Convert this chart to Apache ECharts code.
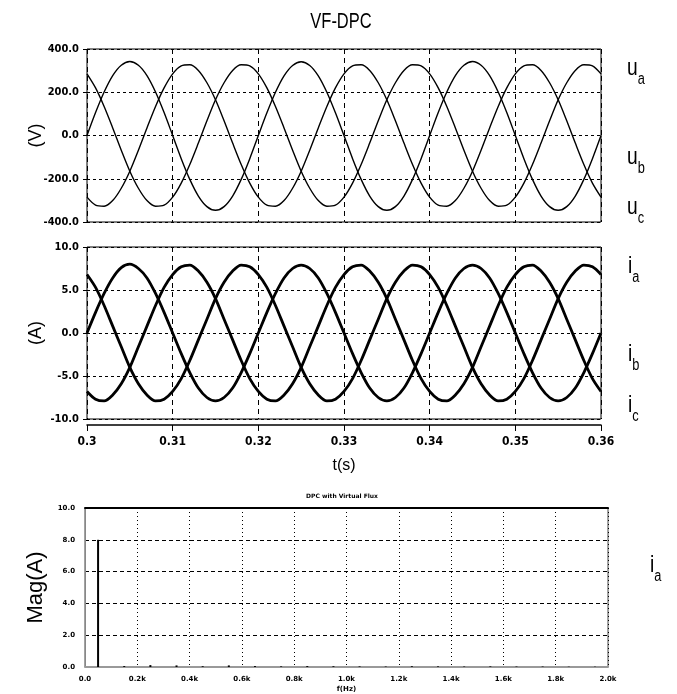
<!DOCTYPE html>
<html>
<head>
<meta charset="utf-8">
<script src="https://cdn.jsdelivr.net/npm/echarts@6/dist/echarts.min.js"></script>
<style>
  html, body { margin: 0; padding: 0; background: #fff; }
  #chart { width: 677px; height: 694px; }
</style>
</head>
<body>
<div id="chart"></div>
<script>
// time samples, ms
const timeMs = [300,301,302,303,304,305,306,307,308,309,310,311,312,313,314,315,316,317,318,319,
  320,321,322,323,324,325,326,327,328,329,330,331,332,333,334,335,336,337,338,339,
  340,341,342,343,344,345,346,347,348,349,350,351,352,353,354,355,356,357,358,359,360]

// grid voltages (V)
const ua = [0,106,201,277,325,342,325,277,201,106,0,-107,-203,-280,-329,-346,-329,-280,-203,-107,
  0,105,200,276,324,341,324,276,200,105,0,-107,-203,-280,-329,-346,-329,-280,-203,-107,
  0,106,201,277,325,342,325,277,201,106,0,-107,-203,-280,-329,-346,-329,-280,-203,-107,0]
const ub = [-285,-322,-327,-301,-244,-165,-68,35,134,220,285,322,327,301,244,165,68,-35,-134,-220,
  -285,-322,-327,-301,-244,-165,-68,35,134,220,285,322,327,301,244,165,68,-35,-134,-220,
  -285,-322,-327,-301,-244,-165,-68,35,134,220,285,322,327,301,244,165,68,-35,-134,-220,-285]
const uc = [285,220,134,35,-68,-165,-244,-301,-327,-322,-285,-220,-134,-35,68,165,244,301,327,322,
  285,220,134,35,-68,-165,-244,-301,-327,-322,-285,-220,-134,-35,68,165,244,301,327,322,
  285,220,134,35,-68,-165,-244,-301,-327,-322,-285,-220,-134,-35,68,165,244,301,327,322,285]

// line currents (A)
const ia = [0,2.4,4.6,6.4,7.6,8.0,7.5,6.4,4.6,2.4,0,-2.4,-4.6,-6.4,-7.5,-7.9,-7.5,-6.4,-4.6,-2.4,
  0,2.4,4.6,6.4,7.5,7.9,7.5,6.4,4.6,2.4,0,-2.4,-4.6,-6.4,-7.5,-7.9,-7.5,-6.4,-4.6,-2.4,
  0,2.4,4.6,6.4,7.5,7.9,7.5,6.4,4.6,2.4,0,-2.4,-4.6,-6.4,-7.5,-7.9,-7.5,-6.4,-4.6,-2.4,0]
const ib = [-6.8,-7.7,-7.9,-7.2,-5.9,-4.0,-1.6,0.8,3.2,5.3,6.8,7.7,7.9,7.2,5.9,4.0,1.6,-0.8,-3.2,-5.3,
  -6.8,-7.7,-7.9,-7.2,-5.9,-4.0,-1.6,0.8,3.2,5.3,6.8,7.7,7.9,7.2,5.9,4.0,1.6,-0.8,-3.2,-5.3,
  -6.8,-7.7,-7.9,-7.2,-5.9,-4.0,-1.6,0.8,3.2,5.3,6.8,7.7,7.9,7.2,5.9,4.0,1.6,-0.8,-3.2,-5.3,-6.8]
const ic = [6.8,5.3,3.2,0.8,-1.6,-4.0,-5.9,-7.2,-7.9,-7.7,-6.8,-5.3,-3.2,-0.8,1.6,4.0,5.9,7.2,7.9,7.7,
  6.8,5.3,3.2,0.8,-1.6,-4.0,-5.9,-7.2,-7.9,-7.7,-6.8,-5.3,-3.2,-0.8,1.6,4.0,5.9,7.2,7.9,7.7,
  6.8,5.3,3.2,0.8,-1.6,-4.0,-5.9,-7.2,-7.9,-7.7,-6.8,-5.3,-3.2,-0.8,1.6,4.0,5.9,7.2,7.9,7.7,6.8]

// ia spectrum
const freqHz = [50,150,250,350,450,550,650,750,850,950,1050,1150,1250,1350,1450,1550,1650,1750,1850,1950]
const magA = [8.0,0.06,0.12,0.10,0.05,0.10,0.06,0.04,0.06,0.05,0.04,0.03,0.05,0.04,0.03,0.04,0.03,0.03,0.02,0.02]

// tick labels
const tLabels = ['0.3','0.31','0.32','0.33','0.34','0.35','0.36']
const vLabels = ['-400.0','-200.0','0.0','200.0','400.0']
const iLabels = ['-10.0','-5.0','0.0','5.0','10.0']
const fLabels = ['0.0','0.2k','0.4k','0.6k','0.8k','1.0k','1.2k','1.4k','1.6k','1.8k','2.0k']
const magLabels = ['0.0','2.0','4.0','6.0','8.0','10.0']

const narrow = "'DejaVu Sans Condensed', 'Liberation Sans Narrow', sans-serif"
const tick = { color: '#000', fontFamily: narrow, fontWeight: 'bold', fontSize: 11 }
const small = { color: '#000', fontFamily: 'DejaVu Sans', fontWeight: 'bold', fontSize: 7 }

const pair = (xs, ys) => xs.map((x, i) => [x, ys[i]])

const chart = echarts.init(document.getElementById('chart'))

const dashedX = { show: true, lineStyle: { color: '#000', type: [5, 4], width: 1 } }
const dashedY = { show: true, lineStyle: { color: '#000', type: [3, 3], width: 1 } }

const subLabel = (x, y, main, sub) => ({
  type: 'text', x, y, scaleX: 0.8,
  style: {
    text: `{m|${main}}{s|${sub}}`,
    rich: {
      m: { fontFamily: 'Liberation Sans', fontSize: 24, fill: '#000', verticalAlign: 'bottom', lineHeight: 24 },
      s: { fontFamily: 'Liberation Sans', fontSize: 16, fill: '#000', verticalAlign: 'bottom', lineHeight: 24, padding: [0, 0, -8, 0] }
    }
  }
})

const axisName = { fontFamily: 'Liberation Sans', fontSize: 18, color: '#000' }

const option = {
  animation: false,
  backgroundColor: '#fff',
  grid: [
    { left: 87, top: 49, width: 514, height: 173, show: true, borderColor: '#000', borderWidth: 1 },
    { left: 87, top: 247, width: 514, height: 172, show: true, borderColor: '#000', borderWidth: 1 },
    { left: 85, top: 508, width: 523, height: 162, show: true, borderColor: '#444', borderWidth: 1 }
  ],
  xAxis: [
    {
      gridIndex: 0, type: 'value', min: 300, max: 360, interval: 10,
      axisLine: { show: false }, axisTick: { show: false }, axisLabel: { show: false },
      splitLine: dashedX
    },
    {
      gridIndex: 1, type: 'value', min: 300, max: 360, interval: 10, offset: 6,
      axisLine: { show: true, onZero: false, lineStyle: { color: '#000', width: 1.5 } },
      axisTick: { show: true, length: 6, lineStyle: { color: '#000' } },
      axisLabel: { ...tick, fontSize: 12, margin: 11, formatter: v => tLabels[Math.round((v - 300) / 10)] },
      splitLine: dashedX,
      name: 't(s)', nameLocation: 'middle', nameGap: 33, nameMoveOverlap: false,
      nameTextStyle: { ...axisName, fontSize: 16 }
    },
    {
      gridIndex: 2, type: 'value', min: 0, max: 2000, interval: 200,
      axisLine: { show: true, onZero: false, lineStyle: { color: '#999', width: 2 } },
      axisTick: { show: false },
      axisLabel: { ...small, margin: 9, formatter: v => fLabels[Math.round(v / 200)] },
      splitLine: { show: true, lineStyle: { color: '#000', type: [1, 3], width: 1 } },
      name: 'f(Hz)', nameLocation: 'middle', nameGap: 19, nameMoveOverlap: false,
      nameTextStyle: { ...small }
    },
    {
      // heavy top frame of the spectrum plot
      gridIndex: 2, type: 'value', min: 0, max: 2000, position: 'top',
      axisLine: { show: true, onZero: false, lineStyle: { color: '#000', width: 2 } },
      axisTick: { show: false }, axisLabel: { show: false }, splitLine: { show: false }
    }
  ],
  yAxis: [
    {
      gridIndex: 0, type: 'value', min: -400, max: 400, interval: 200,
      axisLine: { show: false }, axisTick: { show: true, length: 4, lineStyle: { color: '#000' } },
      axisLabel: { ...tick, margin: 8, formatter: v => vLabels[Math.round((v + 400) / 200)] },
      splitLine: dashedY,
      name: '(V)', nameLocation: 'middle', nameGap: 42, nameRotate: 90, nameMoveOverlap: false,
      nameTextStyle: axisName
    },
    {
      gridIndex: 1, type: 'value', min: -10, max: 10, interval: 5,
      axisLine: { show: false }, axisTick: { show: true, length: 4, lineStyle: { color: '#000' } },
      axisLabel: { ...tick, margin: 8, formatter: v => iLabels[Math.round((v + 10) / 5)] },
      splitLine: dashedY,
      name: '(A)', nameLocation: 'middle', nameGap: 42, nameRotate: 90, nameMoveOverlap: false,
      nameTextStyle: axisName
    },
    {
      gridIndex: 2, type: 'value', min: 0, max: 10, interval: 2,
      axisLine: { show: true, lineStyle: { color: '#888', width: 1 } },
      axisTick: { show: false },
      axisLabel: { ...small, margin: 10, formatter: v => magLabels[Math.round(v / 2)] },
      splitLine: { show: true, lineStyle: { color: '#000', type: [4, 3], width: 1 } },
      name: 'Mag(A)', nameLocation: 'middle', nameGap: 38, nameRotate: 90, nameMoveOverlap: false,
      nameTextStyle: { ...axisName, fontSize: 22 }
    }
  ],
  series: [
    ...[ua, ub, uc].map(d => ({
      type: 'line', xAxisIndex: 0, yAxisIndex: 0, data: pair(timeMs, d),
      smooth: 0.3, showSymbol: false, lineStyle: { color: '#000', width: 1.4 }
    })),
    ...[ia, ib, ic].map(d => ({
      type: 'line', xAxisIndex: 1, yAxisIndex: 1, data: pair(timeMs, d),
      smooth: 0.3, showSymbol: false, lineStyle: { color: '#000', width: 2.8 }
    })),
    {
      type: 'bar', xAxisIndex: 2, yAxisIndex: 2, data: pair(freqHz, magA),
      barWidth: 2, itemStyle: { color: '#000' }
    }
  ],
  graphic: [
    { type: 'text', x: 341, y: 22, scaleX: 0.75, style: { text: 'VF-DPC', x: 0, y: 0, fontFamily: 'Liberation Sans', fontSize: 22, fill: '#000', textAlign: 'center', textVerticalAlign: 'middle' } },
    { type: 'text', x: 342, y: 496, style: { text: 'DPC with Virtual Flux', fontFamily: 'DejaVu Sans', fontWeight: 'bold', fontSize: 6, fill: '#000', textAlign: 'center', textVerticalAlign: 'middle' } },
    subLabel(627, 56, 'u', 'a'),
    subLabel(627, 145, 'u', 'b'),
    subLabel(627, 195, 'u', 'c'),
    subLabel(628, 254, 'i', 'a'),
    subLabel(628, 342, 'i', 'b'),
    subLabel(628, 393, 'i', 'c'),
    subLabel(650, 553, 'i', 'a')
  ]
}

chart.setOption(option)
</script>
</body>
</html>
